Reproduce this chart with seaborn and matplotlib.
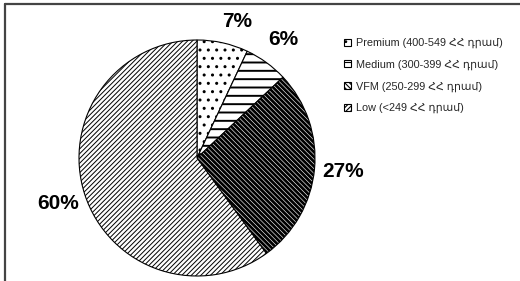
import matplotlib
matplotlib.use("Agg")
import matplotlib.pyplot as plt
import seaborn as sns
from matplotlib.lines import Line2D

segments = ["Premium (400-549 ՀՀ դրամ)", "Medium (300-399 ՀՀ դրամ)",
            "VFM (250-299 ՀՀ դրամ)", "Low (<249 ՀՀ դրամ)"]
shares = [7, 6, 27, 60]
hatches = ["..", "--", "\\" * 7, "/" * 7]
hatch_widths = [1.0, 1.4, 2.0, 0.7]

sns.set_theme(style="white")
plt.rcParams["font.family"] = ["Liberation Sans", "DejaVu Sans"]
plt.rcParams["hatch.linewidth"] = 0.8

fig = plt.figure(figsize=(5.2, 2.81), dpi=100)
ax = fig.add_axes([79 / 520, 5 / 281, 236 / 520, 236 / 281])

wedges, texts, pcts = ax.pie(shares, startangle=90, counterclock=False,
                             colors=["white"] * 4, autopct="%1.0f%%",
                             pctdistance=1.24,
                             wedgeprops=dict(edgecolor="black", linewidth=0.8),
                             textprops=dict(fontsize=15, fontweight="bold", color="black"))
for w, h, lw in zip(wedges, hatches, hatch_widths):
    w.set_hatch(h)
    if hasattr(w, "set_hatch_linewidth"):
        w.set_hatch_linewidth(lw)

# nudge the first label a bit to the right/down, like the original
x0, y0 = pcts[0].get_position()
pcts[0].set_position((x0 + 0.07, y0 - 0.05))

ax.set_xlim(-1, 1)
ax.set_ylim(-1, 1)
ax.set_aspect("equal")

leg = fig.legend(wedges, segments, loc="upper left",
                 bbox_to_anchor=(339 / 520, 1 - 32.5 / 281), frameon=False,
                 fontsize=7.8, handlelength=0.6, handleheight=0.6,
                 handletextpad=0.5, labelspacing=1.05, borderpad=0)

# chart area border (top and left edges visible)
fig.add_artist(Line2D([5 / 520, 1], [1 - 4 / 281, 1 - 4 / 281], color="#444444", lw=1.6))
fig.add_artist(Line2D([5 / 520, 5 / 520], [0, 1 - 4 / 281], color="#444444", lw=1.6))

plt.savefig("out.png", dpi=100)
plt.close()
print("saved: out.png")
